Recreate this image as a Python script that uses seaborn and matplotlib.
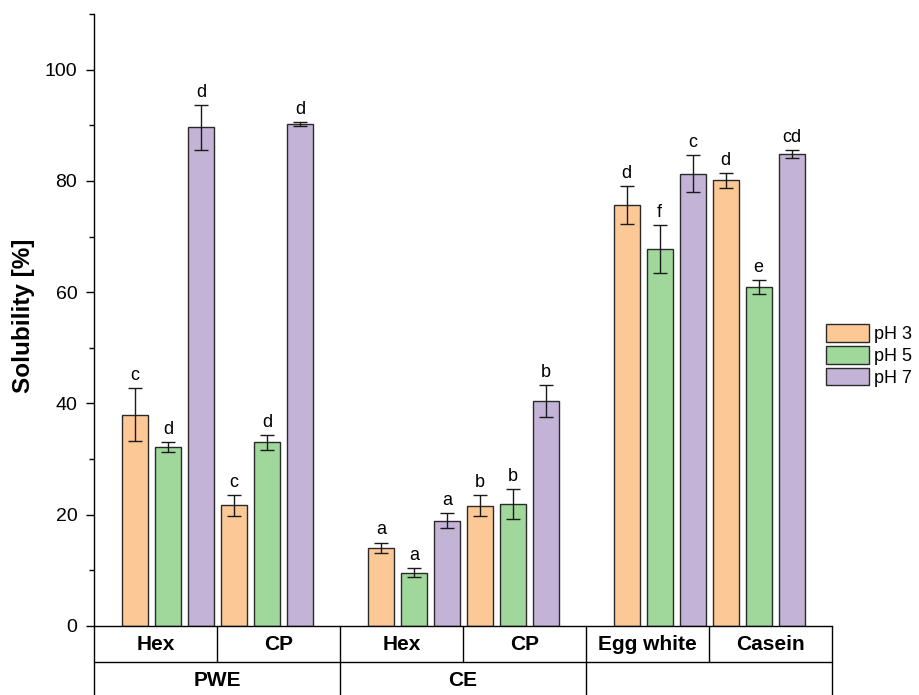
import matplotlib
matplotlib.use("Agg")
import matplotlib.pyplot as plt
from matplotlib.patches import Patch
from matplotlib.ticker import MultipleLocator
import numpy as np
import pandas as pd
import seaborn as sns

# ---------------- data ----------------
samples = ["PWE Hex", "PWE CP", "CE Hex", "CE CP", "Egg white", "Casein"]
row1_labels = ["Hex", "CP", "Hex", "CP", "Egg white", "Casein"]
row2_labels = ["PWE", "CE", ""]
ph_levels = ["pH 3", "pH 5", "pH 7"]

ph3 = [38.0, 21.7, 14.1, 21.6, 75.7, 80.1]
ph5 = [32.2, 33.0, 9.6, 21.9, 67.7, 60.9]
ph7 = [89.6, 90.2, 18.9, 40.4, 81.3, 84.8]

err3 = [4.8, 1.9, 0.9, 1.9, 3.4, 1.3]
err5 = [0.85, 1.3, 0.75, 2.7, 4.3, 1.3]
err7 = [4.0, 0.35, 1.35, 2.9, 3.35, 0.7]

let3 = ["c", "c", "a", "b", "d", "d"]
let5 = ["d", "d", "a", "b", "f", "e"]
let7 = ["d", "d", "a", "b", "c", "cd"]

# ---------------- layout (group centres on a numeric axis) ----------------
group_pos = [0.0, 3.0, 7.45, 10.45, 14.9, 17.9]

rows = []
for lvl, vals, errs, lets in zip(ph_levels, [ph3, ph5, ph7], [err3, err5, err7], [let3, let5, let7]):
    for s, p, v, e, l in zip(samples, group_pos, vals, errs, lets):
        rows.append(dict(sample=s, pos=p, pH=lvl, sol=v, err=e, letter=l))
df = pd.DataFrame(rows)

colors = ["#FCC896", "#A0D89C", "#C2B3D7"]

sns.set_style("ticks")
plt.rcParams["font.family"] = ["Liberation Sans", "DejaVu Sans"]
plt.rcParams["text.color"] = "black"
plt.rcParams["axes.labelcolor"] = "black"
plt.rcParams["ytick.color"] = "black"
plt.rcParams["xtick.color"] = "black"

W, H = 919, 695
fig = plt.figure(figsize=(W / 100, H / 100), dpi=100)
L, R, B, T = 94, 832, 626, 14
ax = fig.add_axes([L / W, 1 - B / H, (R - L) / W, (B - T) / H])

sns.barplot(data=df, x="pos", y="sol", hue="pH", hue_order=ph_levels,
            palette=colors, saturation=1, native_scale=True, width=1.0, gap=0.21,
            errorbar=None, edgecolor="#2a2a2a", linewidth=1.0,
            legend=False, ax=ax)

# error bars and letters from the drawn bars
for lvl, cont in zip(ph_levels, ax.containers):
    sub = df[df.pH == lvl]
    for bar in cont:
        cx = bar.get_x() + bar.get_width() / 2
        h = bar.get_height()
        row = sub.iloc[np.argmin(np.abs(sub.sol.values - h) + np.abs(sub.pos.values - cx) * 0.01)]
        ax.errorbar(cx, h, yerr=row.err, fmt="none", ecolor="#1a1a1a",
                    elinewidth=1.0, capsize=5, capthick=1.0, zorder=5)
        ax.annotate(row.letter, (cx, h + row.err), xytext=(0, 3),
                    textcoords="offset points", ha="center", va="bottom",
                    fontsize=13, color="black")

ax.set_xlim(-2.24, 20.12)
ax.set_ylim(0, 110)
ax.yaxis.set_major_locator(MultipleLocator(20))
ax.yaxis.set_minor_locator(MultipleLocator(10))
ax.tick_params(axis="y", which="major", length=6, width=1.0, direction="out",
               labelsize=14, pad=6, color="black", labelcolor="black")
ax.tick_params(axis="y", which="minor", length=3.5, width=1.0, direction="out", color="black")
ax.set_xticks([])
ax.set_xlabel("")
ax.set_ylabel("Solubility [%]", fontsize=17.5, fontweight="bold", color="black")
ax.yaxis.set_label_coords(-0.08, 0.507)
for s in ["top", "right"]:
    ax.spines[s].set_visible(False)
for s in ["left", "bottom"]:
    ax.spines[s].set_linewidth(1.0)
    ax.spines[s].set_color("black")

# two-level category table under the axis
axh = B - T
r1 = -36 / axh
r2 = -75 / axh
lk = dict(transform=ax.transAxes, clip_on=False, color="black", lw=1.0)
ax.plot([0, 1], [r1, r1], **lk)
for k in range(7):
    ax.plot([k / 6, k / 6], [0, r1], **lk)
for k in range(4):
    ax.plot([k / 3, k / 3], [r1, r2], **lk)
for k, lab in enumerate(row1_labels):
    ax.text((k + 0.5) / 6, r1 / 2, lab, transform=ax.transAxes, ha="center",
            va="center", fontsize=15, fontweight="bold", color="black")
for k, lab in enumerate(row2_labels):
    ax.text((k + 0.5) / 3, -54 / axh, lab, transform=ax.transAxes, ha="center",
            va="center", fontsize=15, fontweight="bold", color="black")

handles = [Patch(facecolor=c, edgecolor="#2a2a2a", linewidth=1.0) for c in colors]
fig.legend(handles, ph_levels, loc="upper left",
           bbox_to_anchor=(826 / W, 1 - 324 / H), frameon=False,
           fontsize=13, handlelength=2.4, handleheight=1.15,
           labelspacing=0.15, handletextpad=0.25, borderpad=0, borderaxespad=0)

fig.savefig("out.png", dpi=100)
